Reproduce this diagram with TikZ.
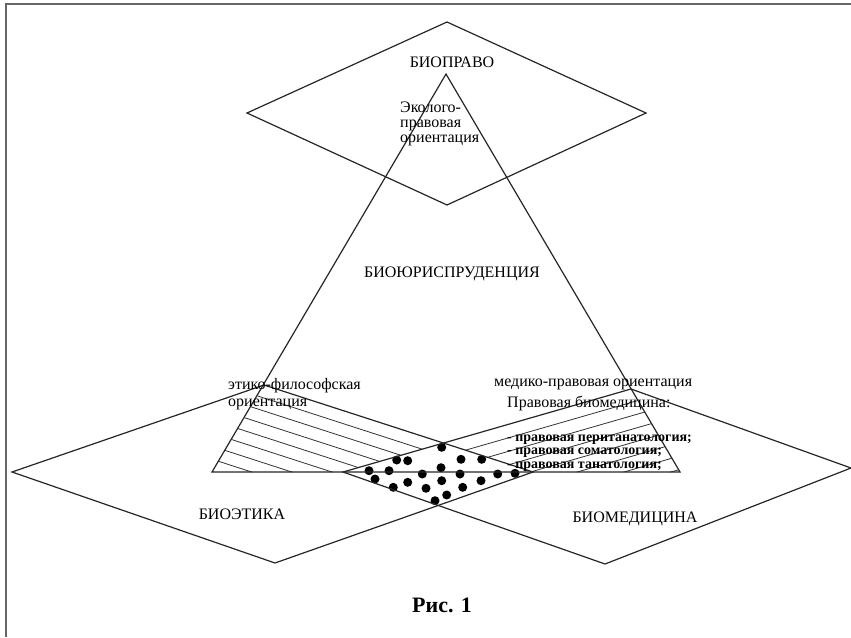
\documentclass[tikz,border=0pt]{standalone}
\usepackage{fontspec}
\setmainfont{Liberation Serif}
\usepackage{tikz}
\usetikzlibrary{calc}
\tikzset{>=stealth}
\tikzset{
  edge/.style={line width=1.2pt, black!85},
  hatch/.style={line width=0.8pt, black!80},
  frame/.style={line width=2pt, black!60},
  lbl/.style={inner sep=0pt, font=\fontsize{16}{15}\selectfont},
  lst/.style={inner sep=0pt, font=\bfseries\fontsize{14}{13.5}\selectfont},
}

\begin{document}
\begin{tikzpicture}[x=1pt,y=-1pt]
    \useasboundingbox (0,0) rectangle (851,637);

    % Frame (only top and left edges are visible)
    \draw[frame] (6,637) -- (6,4) -- (851,4);

    % Key points
    \coordinate (A) at (446,74);
    \coordinate (BL) at (212,472);
    \coordinate (BR) at (680,472);
    \coordinate (L1) at (12,472);
    \coordinate (T1) at (264,385);
    \coordinate (R1) at (533,472);
    \coordinate (B1) at (275,563);
    \coordinate (L2) at (343,472);
    \coordinate (T2) at (631,389);
    \coordinate (R2) at (851,468);
    \coordinate (B2) at (605,564);
    \coordinate (X) at (intersection of T1--R1 and L2--T2);

    % Hatching, left part of the triangle
    \begin{scope}
        \clip (T1) -- (X) -- (L2) -- (BL) -- cycle;
        \foreach \k in {1,...,7}
            \draw[hatch] ($(T1)!-1!(R1)+(0,\k*13)$) -- ($(R1)+(0,\k*13)$);
    \end{scope}

    % Hatching, right part of the triangle
    \begin{scope}
        \clip (X) -- (T2) -- (BR) -- (R1) -- cycle;
        \foreach \k in {1,...,7}
            \draw[hatch] ($(L2)+(0,\k*13.5)$) -- ($(L2)!2!(T2)+(0,\k*13.5)$);
    \end{scope}

    % Dots in the common part
    \foreach \x/\y in {441.7/447.3, 396.7/460, 407.7/460.7, 461/459.3, 481.7/459.3,
                       369/470.7, 389/470.7, 441/467.7, 422.3/474, 460/474, 497.7/474,
                       515/473.3, 375/479, 407.7/482.3, 441.7/480.7, 481/480.7,
                       393.3/487.3, 426/488.3, 462.7/487.3, 446.7/495, 435/500.7}
        \fill (\x,\y) circle (4.5pt);

    % Draw the rhombi and the triangle
    \draw[edge] (247,113) -- (447,22) -- (646,113) -- (447,205) -- cycle;
    \draw[edge] (L1) -- (T1) -- (R1) -- (B1) -- cycle;
    \draw[edge] (L2) -- (T2) -- (R2) -- (B2) -- cycle;
    \draw[edge] (A) -- (BL) -- (BR) -- cycle;

    % Labels
    \node[lbl] (biopravo) at (452,62) {БИОПРАВО};
    \node[lbl, align=left, anchor=west] (ekolog) at (400,124) {Эколого-\\правовая\\ориентация};
    \node[lbl] (biojur) at (452,274) {БИОЮРИСПРУДЕНЦИЯ};
    \node[lbl, align=left, anchor=west] (etikor) at (228,394) {этико-философская\\[2pt]ориентация};
    \node[lbl, anchor=west] (medor) at (494,384) {медико-правовая ориентация};
    \node[lbl, anchor=west] (pravbio) at (507,403) {Правовая биомедицина:};
    \node[lst, align=left, anchor=west] (pravlist) at (507,453)
        {- правовая пеританатология;\\- правовая соматология;\\- правовая танатология;};
    \node[lbl] (bioetika) at (242,514) {БИОЭТИКА};
    \node[lbl] (biomed) at (635,519) {БИОМЕДИЦИНА};

    % Caption
    \node[inner sep=0pt, font=\bfseries\fontsize{22}{22}\selectfont] (ris) at (442,605) {Рис. 1};
\end{tikzpicture}
\end{document}
